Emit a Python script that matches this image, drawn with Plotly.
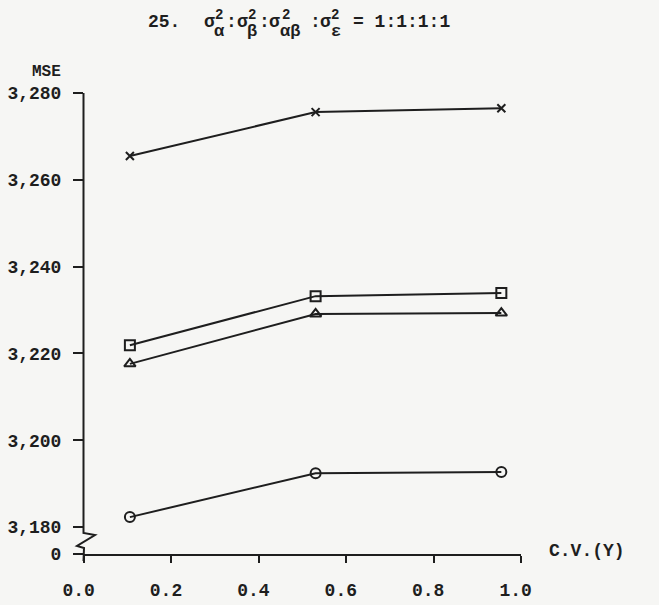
import plotly.graph_objects as go

cv = [0.105, 0.53, 0.955]
series_x = [3265.5, 3275.6, 3276.5]      # x markers
series_sq = [3221.9, 3233.2, 3233.9]     # squares
series_tri = [3217.6, 3229.1, 3229.3]    # triangles
series_ci = [3182.3, 3192.4, 3192.7]     # circles

y_tickvals = [3173.8, 3180, 3200, 3220, 3240, 3260, 3280]
y_ticktext = ["0", "3,180", "3,200", "3,220", "3,240", "3,260", "3,280"]
x_tickvals = [0.0, 0.2, 0.4, 0.6, 0.8, 1.0]
x_ticktext = ["0.0\u00a0", "0.2\u00a0", "0.4\u00a0", "0.6\u00a0", "0.8\u00a0", "1.0\u00a0"]

FONT = "Liberation Mono"
INK = "#1e1e1e"
BG = "#f6f6f4"

W, H = 659, 605
L, R, T, B = 84, 138, 93, 51
PW, PH = W - L - R, H - T - B


def px(x):
    return (x - L) / PW


def py(y):
    return (H - B - y) / PH


fig = go.Figure()
specs = [
    (series_x, "x-thin-open", 8),
    (series_sq, "square-open", 10),
    (series_tri, "triangle-up-open", 10),
    (series_ci, "circle-open", 10),
]
for ys, sym, sz in specs:
    fig.add_trace(go.Scatter(
        x=cv, y=ys, mode="lines+markers",
        line=dict(color=INK, width=2),
        marker=dict(symbol=sym, size=sz, color=INK, line=dict(color=INK, width=2)),
        showlegend=False, cliponaxis=False,
    ))

# y-axis line with break zigzag (decoration, pixel positions)
pts = [(83.5, 93), (83.5, 533), (95, 535), (77, 546), (84, 548), (83.5, 561)]
path = "M " + " L ".join(f"{px(a):.5f},{py(b):.5f}" for a, b in pts)
fig.add_shape(type="path", xref="paper", yref="paper", path=path,
              line=dict(color=INK, width=2), layer="above")
# short stub of x-axis left of the y-axis
fig.add_shape(type="line", xref="paper", yref="paper", x0=px(76), x1=px(84), y0=0, y1=0,
              line=dict(color=INK, width=2), layer="above")

annotations = [
    dict(text="<b>MSE</b>", xref="paper", yref="paper", x=px(46), y=py(72),
         xanchor="center", yanchor="middle", showarrow=False,
         font=dict(family=FONT, size=16, color=INK)),
    dict(text="<b>C.V.(Y)</b>", xref="paper", yref="paper", x=px(547), y=py(551),
         xanchor="left", yanchor="middle", showarrow=False,
         font=dict(family=FONT, size=18, color=INK)),
]
# title pieces
main_parts = [("25.", 146), ("σ", 202), (":", 224), ("σ", 235), (":", 257),
              ("σ", 267), (":", 308), ("σ", 318), ("= 1:1:1:1", 351)]
for t, x in main_parts:
    annotations.append(dict(text=f"<b>{t}</b>", xref="paper", yref="paper", x=px(x), y=py(22),
                            xanchor="left", yanchor="middle", showarrow=False,
                            font=dict(family=FONT, size=18, color=INK)))
sup_parts = [("2", 213), ("2", 246), ("2", 280), ("2", 329)]
for t, x in sup_parts:
    annotations.append(dict(text=f"<b>{t}</b>", xref="paper", yref="paper", x=px(x), y=py(15),
                            xanchor="left", yanchor="middle", showarrow=False,
                            font=dict(family=FONT, size=14, color=INK)))
sub_parts = [("α", 212), ("β", 245), ("αβ", 278), ("ε", 329)]
for t, x in sub_parts:
    annotations.append(dict(text=f"<b>{t}</b>", xref="paper", yref="paper", x=px(x), y=py(32),
                            xanchor="left", yanchor="middle", showarrow=False,
                            font=dict(family=FONT, size=17, color=INK)))

fig.update_layout(
    width=W, height=H,
    margin=dict(l=L, r=R, t=T, b=B, autoexpand=False),
    paper_bgcolor=BG, plot_bgcolor=BG,
    font=dict(family=FONT, color=INK, size=17),
    xaxis=dict(range=[0, 1.0], tickvals=x_tickvals, ticktext=x_ticktext, automargin=False,
               showgrid=False, zeroline=False, showline=True, linecolor=INK, linewidth=2,
               ticks="outside", ticklen=7, tickwidth=2, tickcolor=INK,
               tickfont=dict(family=FONT, size=18, color=INK, weight="bold"),
               ticklabelstandoff=11),
    yaxis=dict(range=[y_tickvals[0], 3280], tickvals=y_tickvals, ticktext=y_ticktext,
               automargin=False,
               showgrid=False, zeroline=False, showline=False,
               ticks="outside", ticklen=10, tickwidth=2, tickcolor=INK,
               tickfont=dict(family=FONT, size=18, color=INK, weight="bold"),
               ticklabelstandoff=8),
    annotations=annotations,
)

fig.write_html("out.html")
